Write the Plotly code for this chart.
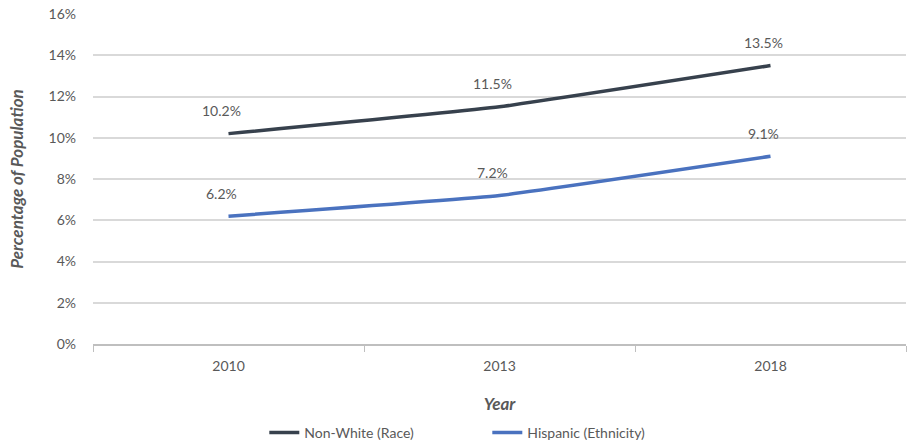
import plotly.graph_objects as go

years = ["2010", "2013", "2018"]
non_white = [10.2, 11.5, 13.5]
hispanic = [6.2, 7.2, 9.1]
y_ticks = [0, 2, 4, 6, 8, 10, 12, 14, 16]
y_tick_labels = ["0%", "2%", "4%", "6%", "8%", "10%", "12%", "14%", "16%"]

series = [
    ("Non-White (Race)", non_white, "#37414d"),
    ("Hispanic (Ethnicity)", hispanic, "#4a72bf"),
]

FONT = "Lato"
GRAY = "#595959"

fig = go.Figure()
for name, vals, color in series:
    fig.add_trace(go.Scatter(
        x=years, y=vals, name=name, mode="lines",
        line=dict(color=color, width=3.5, shape="spline", smoothing=0.3),
        hoverinfo="skip",
    ))
    for i, v in enumerate(vals):
        fig.add_annotation(
            x=i, y=v, xref="x", yref="y", text=f"{v:.1f}%", showarrow=False,
            xshift=-7, yshift=23,
            font=dict(family=FONT, size=14, color=GRAY),
        )

fig.update_layout(
    width=911, height=444,
    margin=dict(l=93, r=5, t=14, b=100, autoexpand=False),
    paper_bgcolor="white", plot_bgcolor="white",
    font=dict(family=FONT, size=14, color=GRAY),
    showlegend=True,
    legend=dict(
        orientation="h", x=0.485, xanchor="center",
        yref="container", y=0.025, yanchor="middle",
        font=dict(family=FONT, size=14, color=GRAY),
        itemwidth=30, entrywidth=178, entrywidthmode="pixels",
    ),
    xaxis=dict(
        type="category", range=[-0.5, 2.5], automargin=False,
        showline=True, linecolor="#bfbfbf", linewidth=1.5,
        ticks="outside", tickson="boundaries", ticklen=6, tickcolor="#bfbfbf",
        showgrid=False, ticklabelstandoff=8,
        tickfont=dict(family=FONT, size=14, color=GRAY),
        title=dict(text="<b><i>Year</i></b>", standoff=26,
                   font=dict(family=FONT, size=17, color=GRAY)),
    ),
    yaxis=dict(
        range=[0, 16], tickvals=y_ticks, ticktext=y_tick_labels, automargin=False,
        showgrid=True, gridcolor="#d9d9d9", gridwidth=1.5,
        showline=False, zeroline=False,
        ticklabelstandoff=16,
        tickfont=dict(family=FONT, size=14, color=GRAY),
        title=dict(text="<b><i>Percentage of Population</i></b>", standoff=20,
                   font=dict(family=FONT, size=17, color=GRAY)),
    ),
)

fig.write_html("out.html")
